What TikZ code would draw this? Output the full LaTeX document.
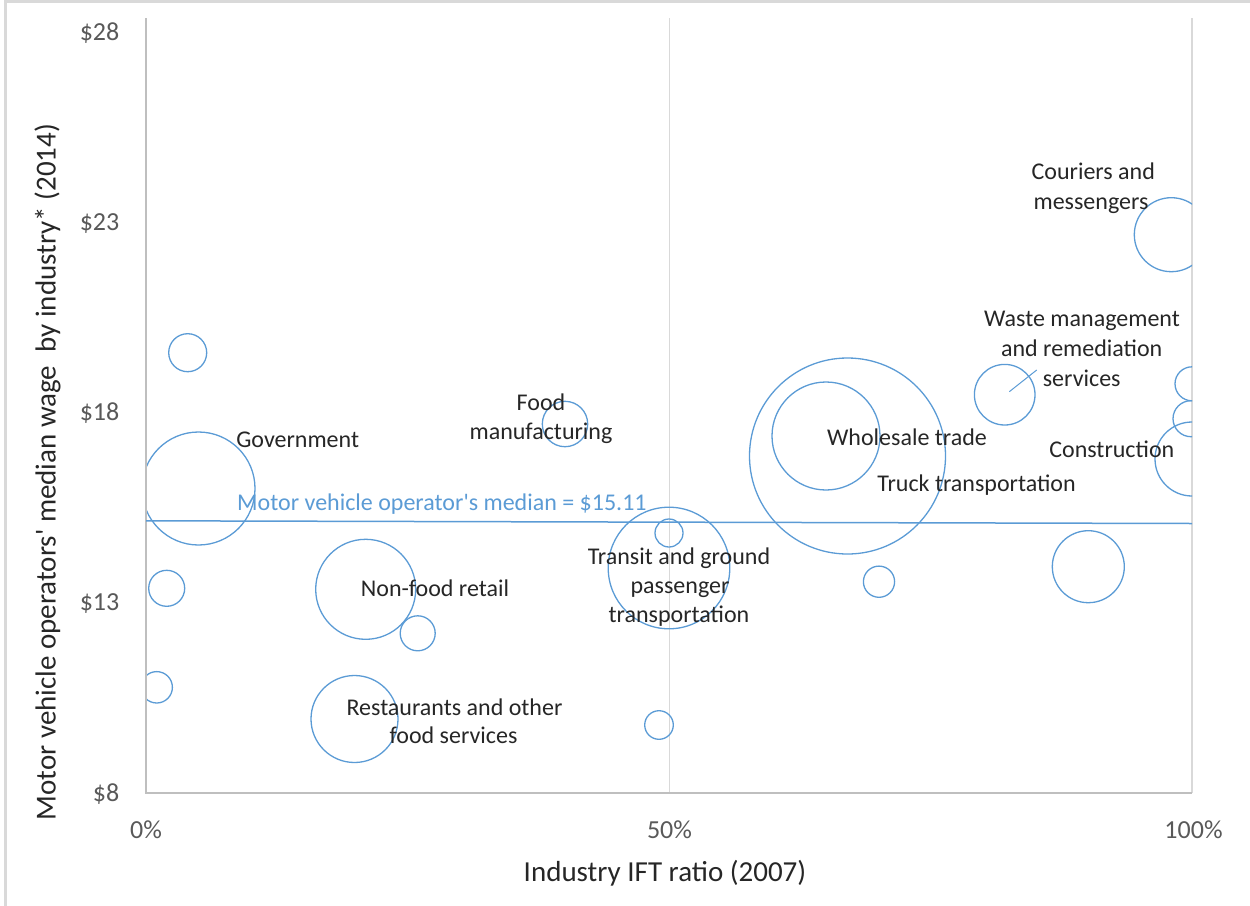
\documentclass[tikz,border=0pt]{standalone}
\usepackage{fontspec}
\setmainfont{Carlito}
\definecolor{bub}{HTML}{5B9BD5}
\definecolor{gridc}{HTML}{D9D9D9}
\definecolor{axisc}{HTML}{BFBFBF}
\definecolor{tickc}{HTML}{595959}
\definecolor{labc}{HTML}{262626}
\begin{document}
\begin{tikzpicture}[x=1pt,y=-1pt,
  bubble/.style={circle,draw=bub,line width=1.3pt,inner sep=0pt,minimum size={2*#1pt}},
  lbl/.style={font=\fontsize{24}{29}\selectfont,text=labc,anchor=base,inner sep=0pt},
  medlbl/.style={font=\fontsize{24}{29}\selectfont,text=bub,anchor=base west,inner sep=0pt},
  ytick/.style={font=\fontsize{26}{31}\selectfont,text=tickc,anchor=base east,inner sep=0pt},
  xtick/.style={font=\fontsize{26}{31}\selectfont,text=tickc,anchor=base,inner sep=0pt},
  axtitle/.style={font=\fontsize{29}{35}\selectfont,text=labc,inner sep=0pt},
  gridline/.style={draw=gridc,line width=1.2pt},
  axisline/.style={draw=axisc,line width=1.2pt},
  medline/.style={draw=bub,line width=1.5pt}]
\useasboundingbox (0,0) rectangle (1250,905);
% outer frame
\draw[gridc,line width=2.5pt] (5.5,1.5) rectangle (1262,917);
% plot corners
\coordinate (pTL) at (146,18);
\coordinate (pBL) at (146,793);
\coordinate (pBR) at (1192,793);
\coordinate (g50t) at (669.5,18);
\coordinate (g50b) at (669.5,793);
\coordinate (g100t) at (1192,18);
% grid
\draw[gridline] (g50t) -- (g50b);
\draw[gridline] (g100t) -- (pBR);
% bubbles
\begin{scope}
\clip (146,18) rectangle (1192,793);
\node[bubble=19]   (b1)  at (187.7,352.7) {};
\node[bubble=56.5] (gov) at (198.5,488.5) {};
\node[bubble=18]   (b3)  at (166.7,588.3) {};
\node[bubble=15.7] (b4)  at (156.7,687.3) {};
\node[bubble=50]   (nfr) at (365.7,589.3) {};
\node[bubble=17.5] (b6)  at (417.7,633.3) {};
\node[bubble=43.5] (rst) at (354.5,719) {};
\node[bubble=22.7] (fdm) at (565,424) {};
\node[bubble=60.8] (trn) at (669,568) {};
\node[bubble=14]   (b10) at (669,533) {};
\node[bubble=14.3] (b11) at (659,725) {};
\node[bubble=98]   (trk) at (847.5,456) {};
\node[bubble=54]   (whl) at (826,436) {};
\node[bubble=15.6] (b14) at (879,581.7) {};
\node[bubble=36]   (b15) at (1088.3,566.7) {};
\node[bubble=30.3] (wst) at (1004.7,394.7) {};
\node[bubble=37]   (cou) at (1171.3,234.7) {};
\node[bubble=17]   (b18) at (1192,383.8) {};
\node[bubble=18]   (b19) at (1191,418.7) {};
\node[bubble=37]   (con) at (1192,459) {};
\end{scope}
% axes
\draw[axisline] (pTL) -- (pBL) -- (pBR);
% median line
\coordinate (mL) at (146,520.8);
\coordinate (mR) at (1192,523.5);
\draw[medline] (mL) -- (mR);
\node[medlbl] (medtxt) at (237,510) {Motor vehicle operator\textquotesingle s median = \$15.11};
% leader line
\coordinate (wl1) at (1009.3,391.7);
\coordinate (wl2) at (1036.7,370);
\draw[draw=bub,line width=1pt] (wl1) -- (wl2);
% data labels
\node[lbl] (tgov) at (297.7,447.7) {Government};
\node[lbl] (tfd1) at (541,410.7) {Food};
\node[lbl] (tfd2) at (541,439.7) {manufacturing};
\node[lbl] (tnfr) at (435,596) {Non-food retail};
\node[lbl] (trs1) at (454.5,715) {Restaurants and other};
\node[lbl] (trs2) at (453.5,743.5) {food services};
\node[lbl] (ttr1) at (679,564) {Transit and ground};
\node[lbl] (ttr2) at (680,593) {passenger};
\node[lbl] (ttr3) at (679,622) {transportation};
\node[lbl] (twhl) at (907,445) {Wholesale trade};
\node[lbl] (ttrk) at (976.5,491.7) {Truck transportation};
\node[lbl] (tcon) at (1111.8,457.7) {Construction};
\node[lbl] (tws1) at (1082,326.7) {Waste management};
\node[lbl] (tws2) at (1081.7,356.3) {and remediation};
\node[lbl] (tws3) at (1081.7,386) {services};
\node[lbl] (tco1) at (1093.3,179.3) {Couriers and};
\node[lbl] (tco2) at (1091,209.3) {messengers};
% y ticks
\node[ytick] (y28) at (119.5,40.7) {\$28};
\node[ytick] (y23) at (119.5,230.7) {\$23};
\node[ytick] (y18) at (119.5,420.7) {\$18};
\node[ytick] (y13) at (119.5,610.7) {\$13};
\node[ytick] (y8)  at (119.5,801.5) {\$8};
% x ticks
\node[xtick] (x0)   at (146,838) {0\%};
\node[xtick] (x50)  at (669.5,838) {50\%};
\node[xtick] (x100) at (1193.5,838) {100\%};
% axis titles
\node[axtitle,anchor=base] (xtitle) at (665,881) {Industry IFT ratio (2007)};
\node[axtitle,anchor=base,rotate=90] (ytitle) at (55.5,472) {Motor vehicle operators\textquotesingle\ median wage\ \ by industry* (2014)};
\end{tikzpicture}
\end{document}
